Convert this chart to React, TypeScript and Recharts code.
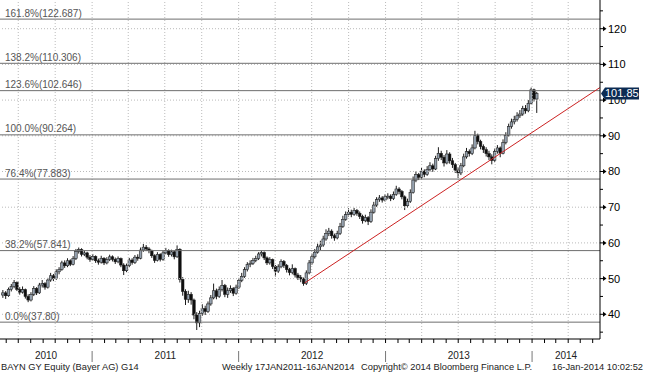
import React from "react";
import { Bar, ComposedChart, ReferenceLine, XAxis, YAxis } from "recharts";

// weekly candles, first bar = week of 24 May 2010
const opens = [
  45.4, 46.0, 45.2, 47.0, 47.8, 48.9, 47.0, 46.2, 46.9, 45.0,
  44.0, 45.6, 47.2, 46.0, 48.2, 48.6, 47.6, 49.6, 50.8, 50.0,
  51.9, 52.6, 54.4, 53.6, 55.0, 54.0, 55.6, 57.6, 58.1, 56.8,
  57.2, 56.0, 55.4, 56.2, 55.0, 54.6, 55.7, 54.4, 55.3, 56.1,
  55.4, 54.7, 55.6, 53.8, 52.2, 53.6, 55.2, 54.5, 56.0, 55.7,
  58.0, 58.8, 58.3, 57.8, 56.4, 55.1, 56.8, 55.4, 57.2, 57.9,
  56.7, 57.5, 56.1, 58.2, 49.8, 46.4, 44.2, 45.6, 44.0, 39.8,
  37.6, 40.2, 41.6, 40.8, 42.9, 44.6, 46.6, 45.0, 46.9, 48.1,
  45.6, 46.6, 47.2, 45.9, 47.6, 49.5, 50.6, 52.5, 53.9, 54.3,
  55.1, 55.6, 56.9, 57.3, 55.8, 54.4, 55.3, 53.4, 52.1, 53.3,
  54.8, 53.7, 52.5, 51.7, 52.8, 51.0, 50.3, 49.9, 48.6, 51.6,
  54.4, 56.1, 57.4, 58.9, 59.4, 61.1, 62.6, 63.3, 62.0, 61.4,
  62.6, 64.6, 66.6, 67.9, 68.6, 68.0, 69.1, 68.3, 67.4, 66.2,
  67.1, 66.0, 68.6, 70.6, 72.1, 72.6, 72.0, 72.9, 73.1, 72.4,
  73.6, 75.1, 74.4, 72.9, 70.4, 71.6, 74.1, 77.6, 79.1, 78.4,
  80.1, 79.2, 80.6, 81.6, 80.7, 83.6, 85.1, 84.0, 82.4, 84.9,
  83.0, 81.9, 80.4, 79.6, 81.6, 84.1, 85.6, 85.0, 86.6, 90.1,
  88.4, 87.0, 86.1, 85.0, 84.1, 83.1, 85.6, 86.6, 85.1, 88.1,
  90.1, 92.6, 93.9, 94.6, 95.6, 96.1, 97.6, 97.0, 99.1, 102.9,
  100.3,
];

const closes = [
  46.0, 45.2, 47.0, 47.8, 48.9, 47.0, 46.2, 46.9, 45.0, 44.0,
  45.6, 47.2, 46.0, 48.2, 48.6, 47.6, 49.6, 50.8, 50.0, 51.9,
  52.6, 54.4, 53.6, 55.0, 54.0, 55.6, 57.6, 58.1, 56.8, 57.2,
  56.0, 55.4, 56.2, 55.0, 54.6, 55.7, 54.4, 55.3, 56.1, 55.4,
  54.7, 55.6, 53.8, 52.2, 53.6, 55.2, 54.5, 56.0, 55.7, 58.0,
  58.8, 58.3, 57.8, 56.4, 55.1, 56.8, 55.4, 57.2, 57.9, 56.7,
  57.5, 56.1, 58.2, 49.8, 46.4, 44.2, 45.6, 44.0, 39.8, 37.6,
  40.2, 41.6, 40.8, 42.9, 44.6, 46.6, 45.0, 46.9, 48.1, 45.6,
  46.6, 47.2, 45.9, 47.6, 49.5, 50.6, 52.5, 53.9, 54.3, 55.1,
  55.6, 56.9, 57.3, 55.8, 54.4, 55.3, 53.4, 52.1, 53.3, 54.8,
  53.7, 52.5, 51.7, 52.8, 51.0, 50.3, 49.9, 48.6, 51.6, 54.4,
  56.1, 57.4, 58.9, 59.4, 61.1, 62.6, 63.3, 62.0, 61.4, 62.6,
  64.6, 66.6, 67.9, 68.6, 68.0, 69.1, 68.3, 67.4, 66.2, 67.1,
  66.0, 68.6, 70.6, 72.1, 72.6, 72.0, 72.9, 73.1, 72.4, 73.6,
  75.1, 74.4, 72.9, 70.4, 71.6, 74.1, 77.6, 79.1, 78.4, 80.1,
  79.2, 80.6, 81.6, 80.7, 83.6, 85.1, 84.0, 82.4, 84.9, 83.0,
  81.9, 80.4, 79.6, 81.6, 84.1, 85.6, 85.0, 86.6, 90.1, 88.4,
  87.0, 86.1, 85.0, 84.1, 83.1, 85.6, 86.6, 85.1, 88.1, 90.1,
  92.6, 93.9, 94.6, 95.6, 96.1, 97.6, 97.0, 99.1, 102.9, 100.3,
  101.85,
];

const highs = [
  46.8, 46.5, 47.5, 48.5, 49.6, 49.2, 47.6, 47.8, 47.2, 45.6,
  46.2, 47.9, 47.6, 48.8, 49.6, 49.0, 50.2, 51.6, 51.3, 52.6,
  53.2, 55.0, 55.1, 55.7, 55.4, 56.3, 58.3, 58.7, 58.5, 57.9,
  57.5, 56.6, 56.9, 56.5, 55.6, 56.4, 56.0, 56.0, 56.7, 56.5,
  55.9, 56.2, 55.9, 54.3, 54.2, 55.8, 55.7, 56.6, 56.8, 58.7,
  59.7, 59.4, 58.8, 58.1, 56.8, 57.4, 57.1, 57.9, 58.6, 58.2,
  58.1, 57.8, 59.3, 58.5, 50.4, 47.0, 46.6, 46.2, 44.4, 40.6,
  41.0, 42.8, 42.4, 43.6, 45.4, 48.6, 47.2, 47.8, 49.6, 48.5,
  47.5, 48.1, 47.6, 48.3, 50.2, 51.6, 53.2, 54.6, 55.1, 55.8,
  56.4, 57.4, 57.8, 57.6, 56.2, 56.0, 55.6, 53.8, 54.0, 55.4,
  55.2, 54.1, 53.0, 54.0, 53.1, 51.6, 51.0, 50.3, 52.3, 55.2,
  57.0, 58.3, 59.8, 60.6, 62.0, 63.8, 64.2, 63.8, 62.6, 63.4,
  65.6, 67.6, 68.8, 69.7, 69.3, 69.8, 69.5, 68.8, 67.9, 67.9,
  67.5, 69.4, 71.5, 72.8, 73.4, 73.1, 73.6, 73.9, 73.6, 74.4,
  76.0, 75.6, 74.8, 73.3, 72.4, 75.0, 78.6, 80.0, 79.6, 81.0,
  80.6, 81.5, 82.6, 82.2, 84.4, 86.8, 85.8, 84.6, 86.0, 85.4,
  83.8, 82.4, 81.2, 82.4, 85.0, 86.6, 86.2, 87.6, 91.4, 90.6,
  88.9, 87.6, 86.8, 85.8, 84.8, 86.4, 87.4, 87.0, 89.0, 91.0,
  93.4, 94.8, 95.6, 96.6, 97.2, 98.4, 98.6, 100.0, 103.5, 103.2,
  102.3,
];

const lows = [
  44.6, 44.3, 44.9, 46.4, 47.3, 46.5, 45.5, 45.8, 44.4, 43.4,
  43.6, 45.1, 45.4, 45.7, 47.5, 46.9, 47.2, 49.1, 49.3, 49.6,
  51.2, 52.2, 53.0, 53.2, 53.5, 53.7, 55.2, 57.0, 56.2, 56.3,
  55.4, 54.7, 55.0, 54.4, 53.9, 54.2, 53.8, 54.0, 54.9, 54.8,
  54.1, 54.3, 53.2, 51.0, 51.8, 53.2, 53.9, 54.1, 55.0, 55.4,
  57.5, 57.7, 57.1, 55.8, 54.4, 54.8, 54.8, 55.0, 56.8, 56.1,
  56.2, 55.4, 55.8, 48.9, 45.2, 42.6, 43.2, 42.7, 38.6, 35.6,
  36.4, 39.6, 39.8, 40.4, 42.4, 44.2, 44.2, 44.6, 46.4, 44.8,
  44.6, 46.0, 45.1, 45.5, 47.1, 49.0, 50.2, 52.0, 53.2, 53.8,
  54.6, 55.2, 56.2, 55.2, 53.8, 53.9, 52.7, 50.6, 51.6, 52.9,
  53.0, 51.7, 50.9, 51.2, 50.3, 49.6, 49.0, 48.0, 48.2, 51.2,
  53.9, 55.6, 57.0, 58.0, 58.9, 60.6, 61.9, 61.2, 60.6, 61.0,
  62.2, 64.2, 66.2, 67.4, 67.2, 67.6, 67.6, 66.7, 65.4, 65.8,
  65.0, 65.6, 68.2, 70.1, 71.5, 71.3, 71.6, 72.2, 71.7, 72.0,
  73.2, 73.6, 72.2, 69.2, 69.8, 71.2, 73.8, 77.0, 77.6, 78.0,
  78.4, 78.8, 80.0, 79.9, 80.4, 83.0, 83.2, 81.4, 82.0, 82.2,
  81.0, 79.6, 78.2, 79.0, 81.2, 83.6, 84.2, 84.6, 86.2, 87.6,
  86.2, 85.2, 84.2, 83.2, 82.0, 82.6, 85.0, 84.0, 84.8, 87.6,
  89.8, 92.0, 93.2, 94.0, 95.0, 95.6, 96.2, 96.6, 98.8, 99.6,
  96.4,
];

const fibLevels = [122.687, 110.306, 102.646, 90.264, 77.883, 57.841, 37.8];
const fibLabels = [
  "161.8%(122.687)",
  "138.2%(110.306)",
  "123.6%(102.646)",
  "100.0%(90.264)",
  "76.4%(77.883)",
  "38.2%(57.841)",
  "0.0%(37.80)",
];

const majorTicks = [40, 50, 60, 70, 80, 90, 100, 110, 120];
const minorTicks = [35, 45, 55, 65, 75, 85, 95, 105, 115, 125];
const lastPrice = 101.85;

const years = [2010, 2011, 2012, 2013, 2014];

const trendFrom = { week: 107.4, price: 48.8 };
const trendTo = { week: 212.4, price: 103.5 };

const footerLeft = "BAYN GY Equity (Bayer AG) G14";
const footerMid = "Weekly 17JAN2011-16JAN2014";
const footerCopy = "Copyright\u00A9 2014 Bloomberg Finance L.P.";
const footerRight = "16-Jan-2014 10:02:52";

// ---- axis helpers (calendar -> week index) ----
const WEEK_MS = 7 * 86400000;
const FIRST_WEEK = Date.UTC(2010, 4, 24);
const X_DOMAIN: [number, number] = [-1.07, 212.46];
const Y_DOMAIN: [number, number] = [33.08, 128.04];

const weekOf = (y: number, m: number) => (Date.UTC(y, m, 1) - FIRST_WEEK) / WEEK_MS;

const monthTicks: number[] = [];
const quarterLines: number[] = [];
const yearBounds: number[] = [];
for (let y = 2010; y <= 2014; y++) {
  for (let m = 0; m < 12; m++) {
    const w = weekOf(y, m);
    if (w < X_DOMAIN[0] || w > X_DOMAIN[1]) continue;
    monthTicks.push(w);
    if (m % 3 === 0) quarterLines.push(w);
    if (m === 0) yearBounds.push(w);
  }
}
const yearMids = years.map((y) => {
  const a = Math.max(X_DOMAIN[0], weekOf(y, 0));
  const b = Math.min(X_DOMAIN[1], weekOf(y + 1, 0));
  return (a + b) / 2;
});
const xTicks = [...monthTicks, ...yearMids];

const weeks = closes.map((c, i) => ({
  i,
  o: opens[i],
  hi: highs[i],
  lo: lows[i],
  c,
  range: [lows[i], highs[i]],
}));

const FONT = "'Liberation Sans', Arial, sans-serif";

const Candle = (props: any) => {
  const { x, y, width, height, payload } = props;
  if (x == null || y == null) return null;
  const cx = x + width / 2;
  const top = Math.min(y, y + height);
  const h = Math.abs(height);
  const span = payload.hi - payload.lo || 1;
  const py = (v: number) => top + ((payload.hi - v) / span) * h;
  const up = payload.c >= payload.o;
  const bTop = py(Math.max(payload.o, payload.c));
  const bBot = py(Math.min(payload.o, payload.c));
  return (
    <g>
      <line x1={cx} x2={cx} y1={top} y2={top + h} stroke="#1c1c1c" strokeWidth={1} />
      <rect
        x={cx - 1.3}
        y={bTop}
        width={2.6}
        height={Math.max(bBot - bTop, 1)}
        fill={up ? "#95a1ae" : "#0e0e0e"}
        stroke="#1c1c1c"
        strokeWidth={0.55}
      />
    </g>
  );
};

const XTick = (props: any) => {
  const { x, y, payload } = props;
  const v = payload.value;
  const yi = yearMids.indexOf(v);
  if (yi >= 0) {
    return (
      <text x={x} y={y + 20} textAnchor="middle" fontSize={10} fontFamily={FONT} fill="#222">
        {years[yi]}
      </text>
    );
  }
  return (
    <g>
      <line x1={x} x2={x} y1={y} y2={y + 4} stroke="#000" strokeWidth={1} />
      {yearBounds.includes(v) && (
        <line x1={x} x2={x} y1={y + 12} y2={y + 23} stroke="#777" strokeWidth={1} />
      )}
    </g>
  );
};

const YTick = (props: any) => {
  const { x, y, payload } = props;
  const v = payload.value;
  if (v === lastPrice) {
    return (
      <g>
        <polygon
          points={`${x + 1},${y} ${x + 5},${y - 6} ${x + 39},${y - 6} ${x + 39},${y + 6} ${x + 5},${y + 6}`}
          fill="#0c2b52"
        />
        <text x={x + 5} y={y + 4} fontSize={11} fontFamily={FONT} fill="#fff">
          {lastPrice.toFixed(2)}
        </text>
      </g>
    );
  }
  if (majorTicks.includes(v)) {
    return (
      <g>
        <line x1={x} x2={x + 4} y1={y} y2={y} stroke="#000" strokeWidth={1} />
        <polygon points={`${x + 3},${y - 2.5} ${x + 6.5},${y} ${x + 3},${y + 2.5}`} fill="#000" />
        <text x={x + 8} y={y + 4} fontSize={11} fontFamily={FONT} fill="#000">
          {v}
        </text>
      </g>
    );
  }
  return <line x1={x} x2={x + 3} y1={y} y2={y} stroke="#000" strokeWidth={1} />;
};

const FibLabel = (props: any) => {
  const { viewBox, text } = props;
  if (!viewBox) return null;
  return (
    <text x={viewBox.x + 5} y={viewBox.y - 2.5} fontSize={10} fontFamily={FONT} fill="#555">
      {text}
    </text>
  );
};

export default function App() {
  return (
    <div style={{ position: "absolute", left: 0, top: 0, width: 645, height: 374, background: "#fff" }}>
      <ComposedChart
        width={645}
        height={374}
        data={weeks}
        margin={{ top: 0, right: 0, left: 0, bottom: 0 }}
      >
        <XAxis
          type="number"
          dataKey="i"
          domain={X_DOMAIN}
          allowDataOverflow
          ticks={xTicks}
          interval={0}
          tick={<XTick />}
          tickLine={false}
          tickSize={0}
          tickMargin={0}
          axisLine={{ stroke: "#000" }}
          height={35}
        />
        <YAxis
          orientation="right"
          type="number"
          domain={Y_DOMAIN}
          allowDataOverflow
          ticks={[...minorTicks, ...majorTicks, lastPrice]}
          interval={0}
          tick={<YTick />}
          tickLine={false}
          tickSize={0}
          tickMargin={0}
          axisLine={{ stroke: "#000" }}
          width={45}
        />

        {majorTicks.map((v) => (
          <ReferenceLine key={`h${v}`} y={v} stroke="#bbb" strokeDasharray="1 2" />
        ))}
        {quarterLines.map((w) => (
          <ReferenceLine key={`q${w}`} x={w} stroke="#bbb" strokeDasharray="1 2" />
        ))}

        {fibLevels.map((lv, k) => (
          <ReferenceLine
            key={`f${lv}`}
            y={lv}
            stroke="#6e6e6e"
            strokeWidth={1}
            label={<FibLabel text={fibLabels[k]} />}
          />
        ))}

        <Bar dataKey="range" shape={Candle} barSize={3} isAnimationActive={false} />

        <ReferenceLine
          segment={[
            { x: trendFrom.week, y: trendFrom.price },
            { x: trendTo.week, y: trendTo.price },
          ]}
          stroke="#cc2222"
          strokeWidth={1}
        />
      </ComposedChart>

      <svg width={645} height={374} style={{ position: "absolute", left: 0, top: 0, pointerEvents: "none" }}>
        <g fontFamily={FONT} fontSize={9.3} fill="#222">
          <text x={1} y={370}>{footerLeft}</text>
          <text x={222} y={370}>{footerMid}</text>
          <text x={361} y={370}>{footerCopy}</text>
          <text x={643} y={370} textAnchor="end">{footerRight}</text>
        </g>
      </svg>
    </div>
  );
}
